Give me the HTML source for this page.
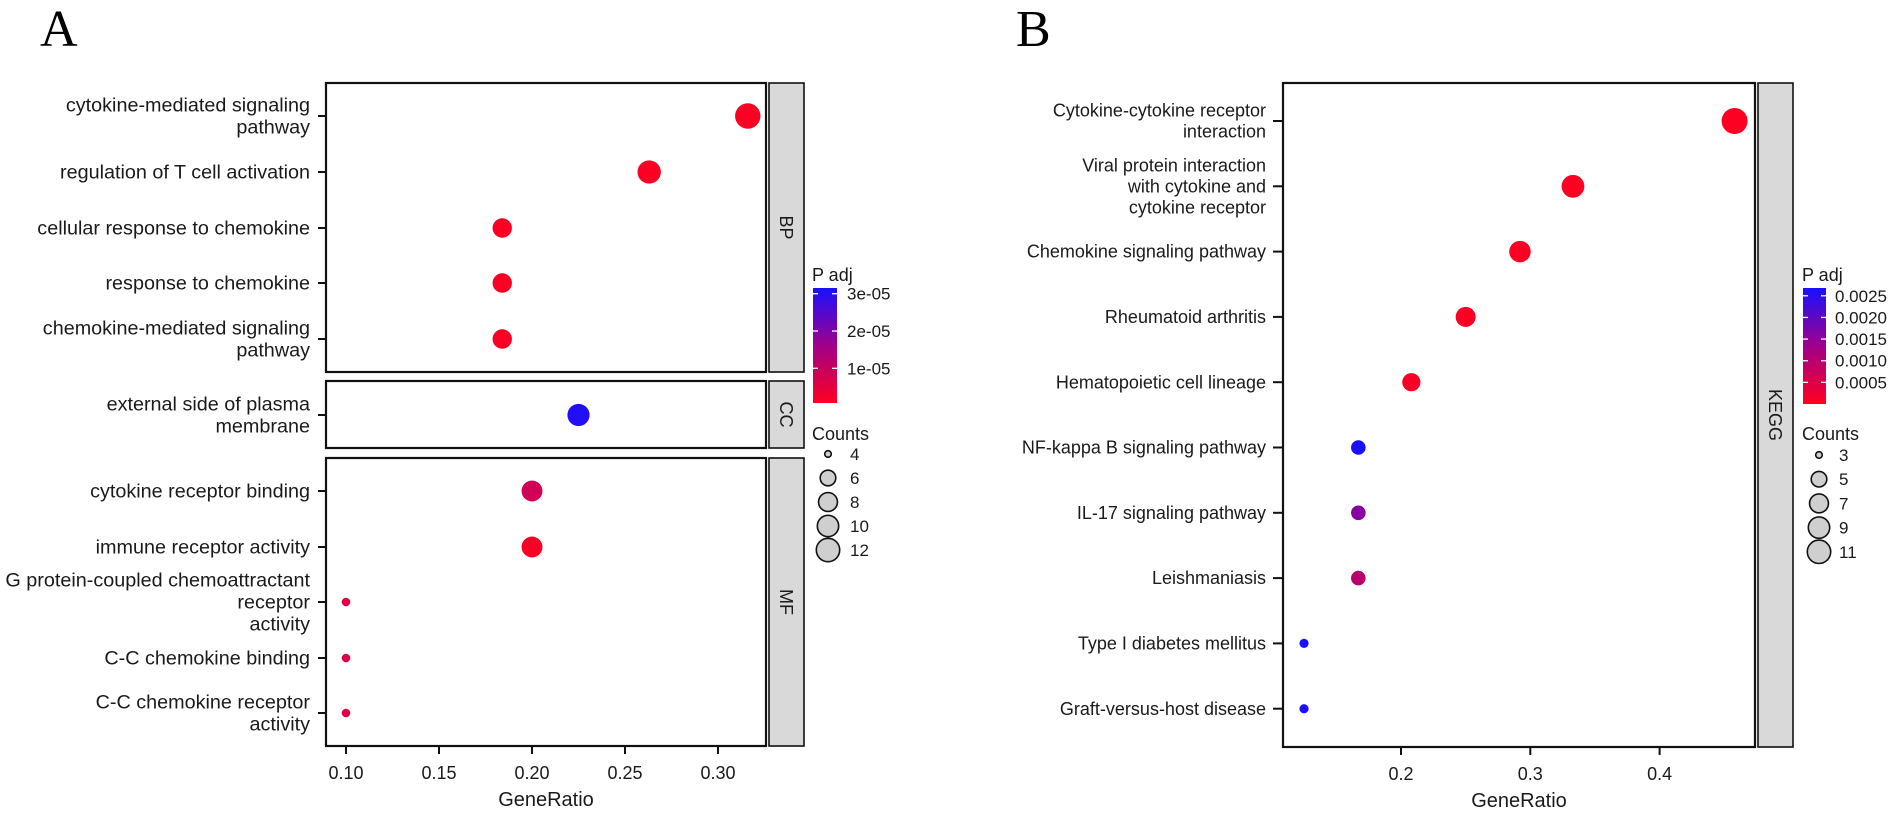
<!DOCTYPE html>
<html><head><meta charset="utf-8"><style>
html,body{margin:0;padding:0;background:#fff;}
svg{display:block;font-family:"Liberation Sans",Arial,sans-serif;}
</style></head><body>
<svg id="fig" width="1900" height="818" viewBox="0 0 1900 818">
<defs>
<linearGradient id="gradA" x1="0" y1="1" x2="0" y2="0"><stop offset="0" stop-color="#ff0020"/><stop offset="0.5" stop-color="#a0008a"/><stop offset="1" stop-color="#1a10ff"/></linearGradient>
<linearGradient id="gradB" x1="0" y1="1" x2="0" y2="0"><stop offset="0" stop-color="#ff0020"/><stop offset="0.5" stop-color="#a0008a"/><stop offset="1" stop-color="#1a10ff"/></linearGradient>
</defs>
<text x="40" y="46" font-family="Liberation Serif,serif" font-size="52">A</text>
<text x="1016" y="46" font-family="Liberation Serif,serif" font-size="52">B</text>
<g id="panelA"></g>
<g id="panelB"></g>
</svg>
<script>
// ---- Panel A data ----
const catsA = [["cytokine-mediated signaling","pathway"],["regulation of T cell activation"],["cellular response to chemokine"],["response to chemokine"],["chemokine-mediated signaling","pathway"],["external side of plasma","membrane"],["cytokine receptor binding"],["immune receptor activity"],["G protein-coupled chemoattractant","receptor","activity"],["C-C chemokine binding"],["C-C chemokine receptor","activity"]];
const groupA = ["BP","BP","BP","BP","BP","CC","MF","MF","MF","MF","MF"];
const ratioA = [0.316,0.263,0.184,0.184,0.184,0.225,0.2,0.2,0.1,0.1,0.1];
const countA = [12,10,7,7,7,9,8,8,4,4,4];
const padjA = [0.05e-5,0.05e-5,0.05e-5,0.05e-5,0.05e-5,3.1e-5,0.8e-5,0.1e-5,0.5e-5,0.5e-5,0.5e-5];
const xTicksA = [0.10,0.15,0.20,0.25,0.30];
const xTickLabelsA = ["0.10","0.15","0.20","0.25","0.30"];
const cbTicksA = [3e-5,2e-5,1e-5];
const cbLabelsA = ["3e-05","2e-05","1e-05"];
const legCountsA = [4,6,8,10,12];
// ---- Panel B data ----
const catsB = [["Cytokine-cytokine receptor","interaction"],["Viral protein interaction","with cytokine and","cytokine receptor"],["Chemokine signaling pathway"],["Rheumatoid arthritis"],["Hematopoietic cell lineage"],["NF-kappa B signaling pathway"],["IL-17 signaling pathway"],["Leishmaniasis"],["Type I diabetes mellitus"],["Graft-versus-host disease"]];
const ratioB = [0.458,0.333,0.292,0.25,0.208,0.167,0.167,0.167,0.125,0.125];
const countB = [11,8,7,6,5,4,4,4,3,3];
const padjB = [0.00002,0.00003,0.00004,0.00005,0.00008,0.0027,0.0016,0.0010,0.0027,0.0027];
const xTicksB = [0.2,0.3,0.4];
const xTickLabelsB = ["0.2","0.3","0.4"];
const cbTicksB = [0.0025,0.0020,0.0015,0.0010,0.0005];
const cbLabelsB = ["0.0025","0.0020","0.0015","0.0010","0.0005"];
const legCountsB = [3,5,7,9,11];

const NS="http://www.w3.org/2000/svg";
function mk(parent,tag,attrs){const e=document.createElementNS(NS,tag);for(const k in attrs)e.setAttribute(k,attrs[k]);parent.appendChild(e);return e;}
function lerp(a,b,t){return a+(b-a)*t;}
function colorFor(p,lo,hi){let t=Math.max(0,Math.min(1,(p-lo)/(hi-lo)));
  const stops=[[255,0,32],[160,0,138],[26,16,255]];
  let s=t<0.5?0:1, u=t<0.5?t*2:(t-0.5)*2;
  const a=stops[s],b=stops[s+1];
  return `rgb(${Math.round(lerp(a[0],b[0],u))},${Math.round(lerp(a[1],b[1],u))},${Math.round(lerp(a[2],b[2],u))})`;}
function sizeR(c,min,max){const f=(c-min)/(max-min);return 4.3+8.4*Math.pow(f,0.45);}
function txt(g,x,y,s,size,anchor){const t=mk(g,'text',{x:x,y:y,'font-size':size,'text-anchor':anchor||'start',fill:'#1a1a1a'});t.textContent=s;return t;}

function ylabel(g,lines,tx,y,fs,lh){const n=lines.length;
  lines.forEach((l,i)=>{const t=txt(g,tx,y+fs*0.34+(i-(n-1)/2)*lh,l,fs,'end');
    
    });}

// ---------- Panel A ----------
(function(){
const g=document.getElementById('panelA');
const L=326,R=766;
const xA=v=>346+(v-0.10)*1860;
const panels=[{k:"BP",y0:83,y1:372,rows:[116,172,228,283,339]},{k:"CC",y0:381,y1:448,rows:[415]},{k:"MF",y0:458,y1:746,rows:[491,547,602,658,713]}];
const rowY=[];panels.forEach(p=>p.rows.forEach(r=>rowY.push(r)));
const lo=0, hi=3.2e-5;
panels.forEach(p=>{
  const b=mk(g,'rect',{x:L,y:p.y0,width:R-L,height:p.y1-p.y0,fill:'#fff',stroke:'#111','stroke-width':2.2});
  
  
  const s=mk(g,'rect',{x:769,y:p.y0,width:35,height:p.y1-p.y0,fill:'#d9d9d9',stroke:'#111','stroke-width':1.6});
  
  
  const cx=786, cy=(p.y0+p.y1)/2;
  const t=mk(g,'text',{x:cx,y:cy,'font-size':18,'text-anchor':'middle','dominant-baseline':'central',transform:`rotate(90 ${cx} ${cy})`,fill:'#1a1a1a'});t.textContent=p.k;
  
  
});
catsA.forEach((c,i)=>{const y=rowY[i];
  const tk=mk(g,'line',{x1:318,x2:326,y1:y,y2:y,stroke:'#111','stroke-width':2});
  
  
  ylabel(g,c,310,y,19.8,22);
  const d=mk(g,'circle',{cx:xA(ratioA[i]),cy:y,r:sizeR(countA[i],4,12),fill:colorFor(padjA[i],lo,hi)});
  
  
});
xTicksA.forEach((v,i)=>{const x=xA(v);
  const tk=mk(g,'line',{x1:x,x2:x,y1:746,y2:754,stroke:'#111','stroke-width':2});
  
  
  const t=txt(g,x,779,xTickLabelsA[i],18,'middle');
  
  });
const xt=txt(g,546,806,'GeneRatio',20,'middle');


const lt=txt(g,812,281,'P adj',18);


const cb=mk(g,'rect',{x:813,y:288,width:24,height:115,fill:'url(#gradA)'});


const cbY=v=>403-(v-0.07e-5)/(3.1e-5-0.07e-5)*113;
cbTicksA.forEach((v,i)=>{const y=cbY(v);
  mk(g,'line',{x1:813,x2:818,y1:y,y2:y,stroke:'#fff','stroke-width':1.3});
  mk(g,'line',{x1:832,x2:837,y1:y,y2:y,stroke:'#fff','stroke-width':1.3});
  const t=txt(g,847,y+6,cbLabelsA[i],17);
  
  });
const ct=txt(g,812,440,'Counts',18);


legCountsA.forEach((c,i)=>{const y=454+i*24;
  const e=mk(g,'circle',{cx:828,cy:y,r:sizeR(c,4,12)-1,fill:'#cfcfcf',stroke:'#111','stroke-width':1.6});
  
  
  const t=txt(g,850,y+6,String(c),17);
  
  });
})();

// ---------- Panel B ----------
(function(){
const g=document.getElementById('panelB');
const L=1283,R=1755,T=83,B=747;
const xB=v=>1401+(v-0.2)*1293;
const yB=i=>121+i*65.3;
const lo=0, hi=0.00268;
const b=mk(g,'rect',{x:L,y:T,width:R-L,height:B-T,fill:'#fff',stroke:'#111','stroke-width':2.2});


const s=mk(g,'rect',{x:1758,y:T,width:35,height:B-T,fill:'#d9d9d9',stroke:'#111','stroke-width':1.6});


const cx=1775,cy=(T+B)/2;
const st=mk(g,'text',{x:cx,y:cy,'font-size':18,'text-anchor':'middle','dominant-baseline':'central',transform:`rotate(90 ${cx} ${cy})`,fill:'#1a1a1a'});st.textContent='KEGG';


catsB.forEach((c,i)=>{const y=yB(i);
  const tk=mk(g,'line',{x1:1273,x2:1283,y1:y,y2:y,stroke:'#111','stroke-width':2});
  
  
  ylabel(g,c,1266,y,18,21);
  const rr=countB[i]===4?7.3:sizeR(countB[i],3,11)+0.3;
  const d=mk(g,'circle',{cx:xB(ratioB[i]),cy:y,r:rr,fill:colorFor(padjB[i],lo,hi)});
  
  
});
xTicksB.forEach((v,i)=>{const x=xB(v);
  const tk=mk(g,'line',{x1:x,x2:x,y1:B,y2:B+8,stroke:'#111','stroke-width':2});
  
  
  const t=txt(g,x,780,xTickLabelsB[i],18,'middle');
  
  });
const xt=txt(g,1519,807,'GeneRatio',20,'middle');


const lt=txt(g,1802,281,'P adj',18);


const cb=mk(g,'rect',{x:1803,y:288,width:23,height:116,fill:'url(#gradB)'});


const cbY=v=>404-v/0.00268*116;
cbTicksB.forEach((v,i)=>{const y=cbY(v);
  mk(g,'line',{x1:1803,x2:1808,y1:y,y2:y,stroke:'#fff','stroke-width':1.3});
  mk(g,'line',{x1:1821,x2:1826,y1:y,y2:y,stroke:'#fff','stroke-width':1.3});
  const t=txt(g,1835,y+6,cbLabelsB[i],17);
  
  });
const ct=txt(g,1802,440,'Counts',18);


legCountsB.forEach((c,i)=>{const y=455+i*24.2;
  const e=mk(g,'circle',{cx:1819,cy:y,r:sizeR(c,3,11)-1,fill:'#cfcfcf',stroke:'#111','stroke-width':1.6});
  
  
  const t=txt(g,1839,y+6,String(c),17);
  
  });
})();
</script>
</body></html>
